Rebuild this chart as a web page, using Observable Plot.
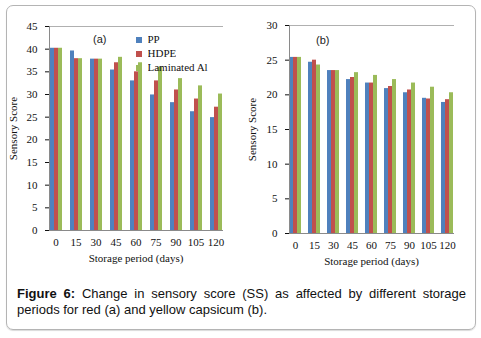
<!DOCTYPE html>
<html>
<head>
<meta charset="utf-8">
<script src="https://cdn.jsdelivr.net/npm/d3@7"></script>
<script src="https://cdn.jsdelivr.net/npm/@observablehq/plot@0.6"></script>
<style>
  html, body { margin: 0; padding: 0; background: #fff; }
  #wrap { position: relative; width: 481px; height: 338px; overflow: hidden; }
  #box { position: absolute; left: 6px; top: 5px; width: 468px; height: 323px; border: 1.5px solid #b4b4b4; border-radius: 7px; box-shadow: 0 1px 1px rgba(0,0,0,0.15); }
  .panel { position: absolute; top: 0; }
  .tag { position: absolute; font-family: "Liberation Sans", Arial, sans-serif; font-size: 11px; color: #222; }
  #legend { position: absolute; left: 136px; top: 33px; }
  #legend .plot-swatch { margin-bottom: 0 !important; padding-bottom: 0 !important; }
  #caption { position: absolute; left: 17px; top: 286px; width: 449px; font-family: "Liberation Sans", Arial, sans-serif; font-size: 13px; line-height: 16px; color: #111; text-align: justify; }
</style>
</head>
<body>
<div id="wrap">
  <div id="box"></div>
  <div id="left" class="panel" style="left:0px"></div>
  <div id="right" class="panel" style="left:240px"></div>
  <div class="tag" style="left:93px; top:33px">(a)</div>
  <div class="tag" style="left:316px; top:34px">(b)</div>
  <div id="legend"></div>
  <div id="caption"><b>Figure 6:</b> Change in sensory score (SS) as affected by different storage periods for red (a) and yellow capsicum (b).</div>
</div>
<script>
const days = ["0", "15", "30", "45", "60", "75", "90", "105", "120"];
const series = ["PP", "HDPE", "Laminated Al"];
const colors = ["#4F81BD", "#C0504D", "#9BBB59"];

// (a) red capsicum
const redPP    = [40.2, 39.6, 37.8, 35.4, 33.0, 29.9, 28.2, 26.2, 24.9];
const redHDPE  = [40.2, 37.9, 37.8, 37.0, 35.0, 33.0, 31.0, 29.0, 27.2];
const redLam   = [40.2, 37.9, 37.8, 38.2, 37.0, 36.0, 33.5, 31.9, 30.1];
// (b) yellow capsicum
const yelPP    = [25.4, 24.7, 23.5, 22.2, 21.7, 20.9, 20.3, 19.5, 18.9];
const yelHDPE  = [25.4, 25.0, 23.5, 22.5, 21.7, 21.2, 20.7, 19.4, 19.3];
const yelLam   = [25.4, 24.3, 23.5, 23.2, 22.8, 22.2, 21.7, 21.1, 20.3];

const yTicksA = [0, 5, 10, 15, 20, 25, 30, 35, 40, 45];
const yTicksB = [0, 5, 10, 15, 20, 25, 30];

function rows(arrs) {
  const out = [];
  days.forEach((d, i) => series.forEach((s, j) => out.push({day: d, series: s, value: arrs[j][i]})));
  return out;
}

const axisColor = "#8a8a8a";
const font = {fontFamily: "'Liberation Serif', 'Times New Roman', serif", fontSize: "11px", color: "#111", background: "transparent"};

function chart(data, ticks, dims) {
  const ymax = ticks[ticks.length - 1];
  return Plot.plot({
    width: dims.width,
    height: dims.height,
    marginTop: dims.mt,
    marginBottom: dims.mb,
    marginLeft: dims.ml,
    marginRight: dims.mr,
    style: font,
    fx: {domain: days, paddingInner: 0.36, paddingOuter: 0.18, label: "Storage period (days)", labelAnchor: "center", labelOffset: dims.xlo, tickSize: 0, tickPadding: 8},
    x: {domain: series, padding: 0, axis: null},
    y: {domain: [0, ymax], ticks: ticks, tickSize: 4, tickPadding: 8, label: "Sensory Score", labelAnchor: "center", labelOffset: dims.ylo, labelArrow: "none"},
    color: {domain: series, range: colors},
    marks: [
      Plot.frame({facet: "super", anchor: "top", stroke: "#b0b0b0"}),
      Plot.barY(data, {fx: "day", x: "series", y: "value", fill: "series"}),
      Plot.frame({facet: "super", anchor: "bottom", stroke: axisColor}),
      Plot.frame({facet: "super", anchor: "left", stroke: axisColor})
    ]
  });
}

document.getElementById("left").appendChild(
  chart(rows([redPP, redHDPE, redLam]), yTicksA, {width: 240, height: 272, mt: 26, mb: 42, ml: 44, mr: 14, xlo: 31, ylo: 40})
);
document.getElementById("right").appendChild(
  chart(rows([yelPP, yelHDPE, yelLam]), yTicksB, {width: 241, height: 275, mt: 25, mb: 42, ml: 42, mr: 20, xlo: 31, ylo: 41})
);

document.getElementById("legend").appendChild(
  Plot.legend({
    color: {domain: series, range: colors},
    legend: "swatches",
    columns: 1,
    swatchSize: 6,
    style: {fontFamily: "'Liberation Serif', 'Times New Roman', serif", fontSize: "11px", lineHeight: "13px", color: "#111", background: "transparent"}
  })
);
</script>
</body>
</html>
